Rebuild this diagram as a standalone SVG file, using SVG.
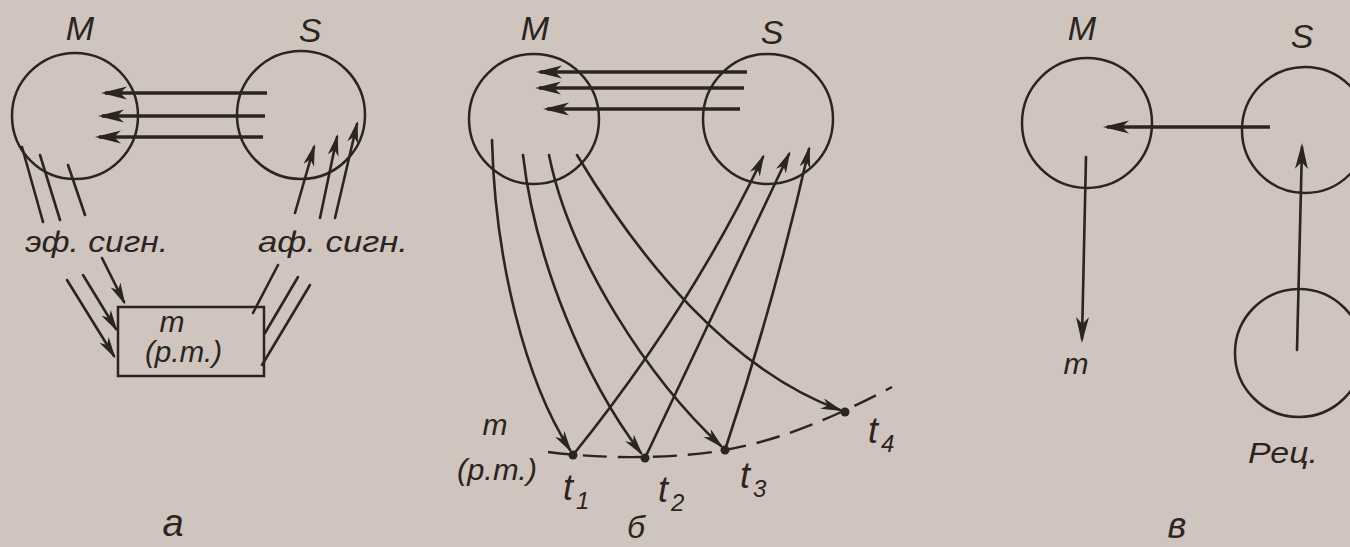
<svg xmlns="http://www.w3.org/2000/svg" width="1350" height="547" viewBox="0 0 1350 547">
<style>
.bg{fill:#cfc5be}
.c{fill:none;stroke:#2b2420;stroke-width:2.5}
.ln{fill:none;stroke:#2b2420;stroke-width:2.6;stroke-linecap:round}
.th{fill:none;stroke:#2b2420;stroke-width:3.6}
.ds{fill:none;stroke:#2b2420;stroke-width:2.4;stroke-dasharray:24 11}
.t{font-family:"Liberation Sans","DejaVu Sans",sans-serif;font-style:italic;fill:#2b2420}
.lab{font-size:34px}
.sm{font-size:30px}
.tt{font-size:36px}
.sub{font-size:24px}
.dot{fill:#2b2420}
</style>
<defs>
<marker id="ah" markerUnits="userSpaceOnUse" markerWidth="30" markerHeight="16" refX="22" refY="7" orient="auto">
<path d="M0,0.5 L26,7 L0,13.5 L7,7 Z" fill="#2b2420"/>
</marker>
<marker id="as" markerUnits="userSpaceOnUse" markerWidth="26" markerHeight="12" refX="19" refY="5.5" orient="auto">
<path d="M0,0 L22,5.5 L0,11 L6,5.5 Z" fill="#2b2420"/>
</marker>
</defs>
<rect class="bg" x="0" y="0" width="1350" height="547"/>

<!-- Panel a -->
<g id="a-M"><circle class="c" cx="75" cy="116" r="63"/><text class="t lab" x="80" y="40" text-anchor="middle">M</text></g>
<g id="a-S"><circle class="c" cx="301" cy="115" r="64"/><text class="t lab" x="310" y="42" text-anchor="middle">S</text></g>
<g id="a-box"><rect class="c" x="118" y="307" width="146" height="69"/><text class="t sm" x="172" y="332" text-anchor="middle">m</text><text class="t sm" x="145" y="362" textLength="77" lengthAdjust="spacingAndGlyphs">(р.т.)</text></g>
<g id="a-labels">
<text class="t sm" x="25" y="252" textLength="143" lengthAdjust="spacingAndGlyphs">эф. сигн.</text>
<text class="t sm" x="258" y="252" textLength="150" lengthAdjust="spacingAndGlyphs">аф. сигн.</text>
<text class="t" font-size="38" x="173" y="536" text-anchor="middle">а</text>
</g>

<!-- Panel b -->
<g id="b-M"><circle class="c" cx="534" cy="119" r="65"/><text class="t lab" x="535" y="40" text-anchor="middle">M</text></g>
<g id="b-S"><circle class="c" cx="768" cy="119" r="65"/><text class="t lab" x="772" y="44" text-anchor="middle">S</text></g>
<g id="b-t1"><circle class="dot" cx="573" cy="455" r="4.5"/><text class="t tt" x="563" y="500">t</text><text class="t sub" x="576" y="509">1</text></g>
<g id="b-t2"><circle class="dot" cx="645" cy="458" r="4.5"/><text class="t tt" x="658" y="502">t</text><text class="t sub" x="671" y="511">2</text></g>
<g id="b-t3"><circle class="dot" cx="725" cy="450" r="4.5"/><text class="t tt" x="740" y="488">t</text><text class="t sub" x="753" y="497">3</text></g>
<g id="b-t4"><circle class="dot" cx="845" cy="412" r="4.5"/><text class="t tt" x="868" y="443">t</text><text class="t sub" x="881" y="452">4</text></g>
<g id="b-labels">
<text class="t sm" x="495" y="435" text-anchor="middle">m</text>
<text class="t sm" x="457" y="480" textLength="80" lengthAdjust="spacingAndGlyphs">(р.т.)</text>
<text class="t" font-size="32" x="636" y="538" text-anchor="middle">б</text>
</g>

<!-- Panel v -->
<g id="v-M"><circle class="c" cx="1087" cy="123" r="65"/><text class="t lab" x="1082" y="40" text-anchor="middle">M</text></g>
<g id="v-S"><circle class="c" cx="1305" cy="130" r="63"/><text class="t lab" x="1302" y="48" text-anchor="middle">S</text></g>
<g id="v-Rec"><circle class="c" cx="1299" cy="353" r="64"/><text class="t sm" x="1248" y="463" textLength="70" lengthAdjust="spacingAndGlyphs">Рец.</text></g>
<g id="v-m"><text class="t sm" x="1076" y="374" text-anchor="middle">m</text></g>
<g id="v-label"><text class="t" font-size="36" x="1177" y="538" text-anchor="middle">в</text></g>

<g id="connectors">
<!-- a -->
<line class="th" x1="267" y1="93" x2="105" y2="93" marker-end="url(#ah)"/>
<line class="th" x1="265" y1="116" x2="102" y2="116" marker-end="url(#ah)"/>
<line class="th" x1="263" y1="137" x2="99" y2="137" marker-end="url(#ah)"/>
<line class="ln" x1="22" y1="147" x2="43" y2="222"/>
<line class="ln" x1="40" y1="155" x2="60" y2="220"/>
<line class="ln" x1="68" y1="165" x2="85" y2="215"/>
<line class="ln" x1="295" y1="213" x2="314" y2="147" marker-end="url(#as)"/>
<line class="ln" x1="320" y1="218" x2="337" y2="137" marker-end="url(#as)"/>
<line class="ln" x1="335" y1="218" x2="357" y2="124" marker-end="url(#as)"/>
<line class="ln" x1="67" y1="280" x2="114" y2="356" marker-end="url(#as)"/>
<line class="ln" x1="83" y1="275" x2="116" y2="329" marker-end="url(#as)"/>
<line class="ln" x1="102" y1="258" x2="124" y2="302" marker-end="url(#as)"/>
<line class="ln" x1="253" y1="313" x2="278" y2="265"/>
<line class="ln" x1="265" y1="333" x2="298" y2="277"/>
<line class="ln" x1="262" y1="365" x2="310" y2="285"/>
<!-- b -->
<line class="th" x1="747" y1="72" x2="540" y2="72" marker-end="url(#ah)"/>
<line class="th" x1="744" y1="88" x2="539" y2="88" marker-end="url(#ah)"/>
<line class="th" x1="740" y1="109" x2="547" y2="109" marker-end="url(#ah)"/>
<path class="ln" d="M492,140 C495,260 525,380 570,450" marker-end="url(#as)"/>
<path class="ln" d="M523,155 C535,260 585,380 641,453" marker-end="url(#as)"/>
<path class="ln" d="M549,155 C570,260 650,380 721,446" marker-end="url(#as)"/>
<path class="ln" d="M577,155 C640,260 730,370 840,410" marker-end="url(#as)"/>
<path class="ln" d="M573,455 Q690,310 763,157" marker-end="url(#as)"/>
<path class="ln" d="M645,458 Q720,300 789,154" marker-end="url(#as)"/>
<path class="ln" d="M725,450 Q775,300 809,149" marker-end="url(#as)"/>
<path class="ds" d="M548,452 C610,460 680,458 725,450 S820,425 892,387"/>
<!-- v -->
<line class="th" x1="1270" y1="127" x2="1107" y2="127" marker-end="url(#ah)"/>
<line class="ln" x1="1086" y1="157" x2="1082" y2="339" marker-end="url(#ah)"/>
<line class="ln" x1="1297" y1="350" x2="1302" y2="147" marker-end="url(#ah)"/>
</g>
</svg>
